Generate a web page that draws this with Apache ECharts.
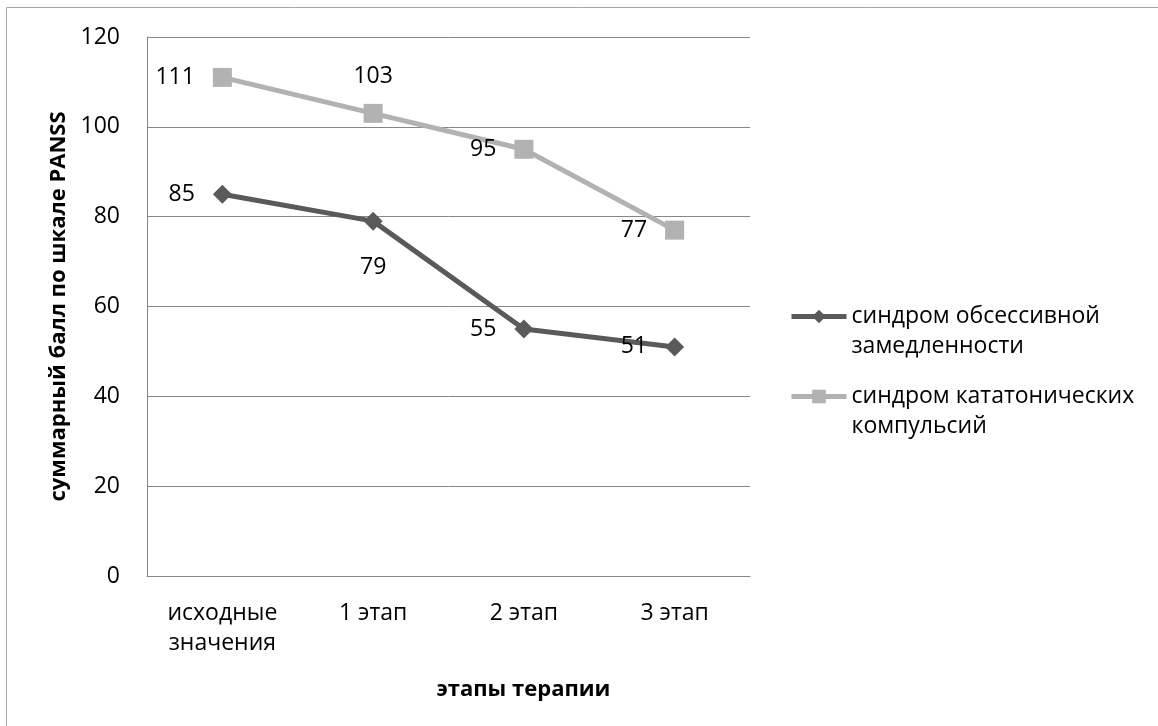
<!DOCTYPE html>
<html>
<head>
<meta charset="utf-8">
<script src="https://cdn.jsdelivr.net/npm/echarts@6/dist/echarts.min.js"></script>
<style>
  html, body { margin: 0; padding: 0; background: #fff; }
  #chart { width: 1158px; height: 726px; }
</style>
</head>
<body>
<div id="chart"></div>
<script>
// Stages of therapy and PANSS totals per syndrome
const stages = ['исходные\nзначения', '1 этап', '2 этап', '3 этап'];
const obsessiveSlowness = [85, 79, 55, 51];
const catatonicCompulsions = [111, 103, 95, 77];
const seriesNames = ['синдром обсессивной\nзамедленности', 'синдром кататонических\nкомпульсий'];
// label side per point
const obsessivePos = ['left', 'bottom', 'left', 'left'];
const catatonicPos = ['left', 'top', 'left', 'left'];

const FONT = '"Open Sans", "Noto Sans", sans-serif';
const FS = 23;
const DARK = '#5a5a5a';
const LIGHT = '#b2b2b2';

const chart = echarts.init(document.getElementById('chart'), null, { renderer: 'canvas' });

const labelDistance = { left: 18, top: 16, bottom: 25 };
function withPositions(values, positions) {
  return values.map((v, i) => ({
    value: v,
    label: { position: positions[i], distance: labelDistance[positions[i]] }
  }));
}

// Legend entry: an empty first row keeps the icon level with the first text line
function legendBlock(name, top) {
  return {
    orient: 'vertical',
    left: 789,
    top: top,
    padding: 0,
    itemWidth: 55,
    itemHeight: 17,
    data: [name],
    lineStyle: { width: 5 },
    formatter: (n) => '{s| }\n' + n.split('\n').map(t => '{a|' + t + '}').join('\n'),
    textStyle: {
      fontFamily: FONT, fontSize: FS, color: '#000',
      rich: {
        s: { fontFamily: FONT, fontSize: FS, lineHeight: 30 },
        a: { fontFamily: FONT, fontSize: FS, lineHeight: 30, color: '#000' }
      }
    }
  };
}

chart.setOption({
  animation: false,
  backgroundColor: '#fff',
  textStyle: { fontFamily: FONT },
  graphic: [{
    type: 'rect',
    shape: { x: 6.5, y: 7.5, width: 1300, height: 900 },
    style: { fill: 'none', stroke: '#a6a6a6', lineWidth: 1 },
    silent: true
  }],
  grid: { left: 147, top: 37, right: 408, bottom: 150, containLabel: false },
  legend: [legendBlock(seriesNames[0], 275), legendBlock(seriesNames[1], 355)],
  xAxis: {
    type: 'category',
    data: stages,
    boundaryGap: true,
    name: 'этапы терапии',
    nameLocation: 'middle',
    nameGap: 103,
    nameTextStyle: {
      fontFamily: FONT, fontSize: 22, fontWeight: 'bold', color: '#000',
      padding: [0, 0, 0, 150]
    },
    axisLine: { show: true, lineStyle: { color: '#868686', width: 1 } },
    axisTick: { show: false },
    axisLabel: { fontFamily: FONT, fontSize: FS, color: '#000', margin: 22, lineHeight: 30, interval: 0 },
    splitLine: { show: false }
  },
  yAxis: {
    type: 'value',
    min: 0,
    max: 120,
    interval: 20,
    name: 'суммарный балл по шкале PANSS',
    nameLocation: 'middle',
    nameGap: 76,
    nameRotate: 90,
    nameTextStyle: { fontFamily: FONT, fontSize: 22, fontWeight: 'bold', color: '#000' },
    axisLine: { show: true, lineStyle: { color: '#868686', width: 1 } },
    axisTick: { show: false },
    axisLabel: { fontFamily: FONT, fontSize: FS, color: '#000', margin: 27 },
    splitLine: { show: true, lineStyle: { color: '#868686', width: 1 } }
  },
  series: [
    {
      name: seriesNames[0],
      type: 'line',
      data: withPositions(obsessiveSlowness, obsessivePos),
      symbol: 'diamond',
      symbolSize: 19,
      itemStyle: { color: DARK },
      lineStyle: { color: DARK, width: 5 },
      label: { show: true, fontFamily: FONT, fontSize: FS, color: '#000' },
      z: 3
    },
    {
      name: seriesNames[1],
      type: 'line',
      data: withPositions(catatonicCompulsions, catatonicPos),
      symbol: 'rect',
      symbolSize: 19,
      itemStyle: { color: LIGHT },
      lineStyle: { color: LIGHT, width: 5 },
      label: { show: true, fontFamily: FONT, fontSize: FS, color: '#000' },
      z: 2
    }
  ]
});
</script>
</body>
</html>
